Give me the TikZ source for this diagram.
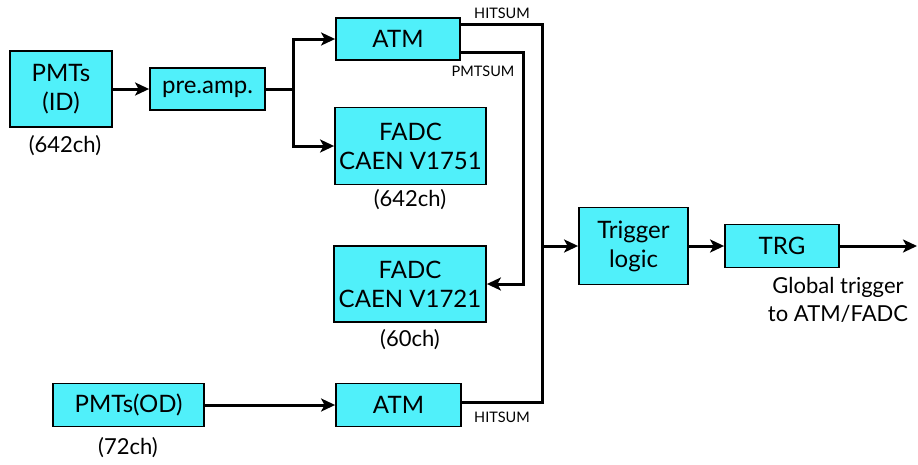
\documentclass[tikz,border=0pt]{standalone}
\usepackage{fontspec}
\setmainfont{Lato}
\usetikzlibrary{arrows.meta}
\definecolor{boxcyan}{RGB}{80,240,250}
\begin{document}
\begin{tikzpicture}[x=1pt,y=-1pt,
 box/.style={draw=black, line width=1.8pt, fill=boxcyan, inner sep=0pt, font=\fontsize{24}{29}\selectfont, align=center},
 lbl/.style={font=\fontsize{22}{28}\selectfont, align=center, inner sep=0pt},
 small/.style={font=\fontsize{14.5}{16}\selectfont, inner sep=0pt},
 wire/.style={line width=3pt},
 arr/.style={wire, -{Stealth[length=14pt,width=13pt,inset=3.5pt]}}]
\useasboundingbox (0,0) rectangle (918,464);
% boxes
\node[box, minimum width=102pt, minimum height=76pt] (pmtid) at (61,89) {PMTs\\(ID)};
\node[box, minimum width=115pt, minimum height=42pt] (pre) at (207.5,89) {pre.amp.};
\node[box, minimum width=124pt, minimum height=42pt] (atm1) at (398,39) {ATM};
\node[box, minimum width=151pt, minimum height=77pt] (fadc1) at (410.5,146) {FADC\\CAEN V1751};
\node[box, minimum width=152pt, minimum height=76pt] (fadc2) at (410,284) {FADC\\CAEN V1721};
\node[box, minimum width=125pt, minimum height=43pt] (atm2) at (398.5,405) {ATM};
\node[box, minimum width=151pt, minimum height=43pt] (pmtod) at (128.5,405) {PMTs(OD)};
\node[box, minimum width=109pt, minimum height=77pt] (trig) at (633.5,246) {Trigger\\logic};
\node[box, minimum width=114pt, minimum height=43pt] (trg) at (782,246) {TRG};
% labels
\node[lbl] (l1) at (65,146) {(642ch)};
\node[lbl] (l2) at (410,200) {(642ch)};
\node[lbl] (l3) at (410,340) {(60ch)};
\node[lbl] (l4) at (128,448) {(72ch)};
\node[small] (hs1) at (502,13) {HITSUM};
\node[small] (ps) at (483,71) {PMTSUM};
\node[small] (hs2) at (502,417) {HITSUM};
\node[lbl] (gt) at (838,300) {Global trigger\\to ATM/FADC};
% coordinates
\coordinate (split) at (293,89);
\coordinate (bus) at (542,246);
\coordinate (psum) at (523,150);
\coordinate (out) at (917,246);
% connectors
\draw[arr] (pmtid.east) -- (pre.west);
\draw[wire] (pre.east) -- (split);
\draw[arr] (split) |- (atm1.west);
\draw[arr] (split) |- (fadc1.west);
\draw[wire] ([yshift=15pt]atm1.east) -| (bus) |- ([yshift=3pt]atm2.east);
\draw[arr] (bus) -- (trig.west);
\draw[arr] ([yshift=-13pt]atm1.east) -| (psum) |- (fadc2.east);
\draw[arr] (pmtod.east) -- (pmtod.east -| atm2.west);
\draw[arr] (trig.east) -- (trg.west);
\draw[arr] (trg.east) -- (out);
\end{tikzpicture}
\end{document}
